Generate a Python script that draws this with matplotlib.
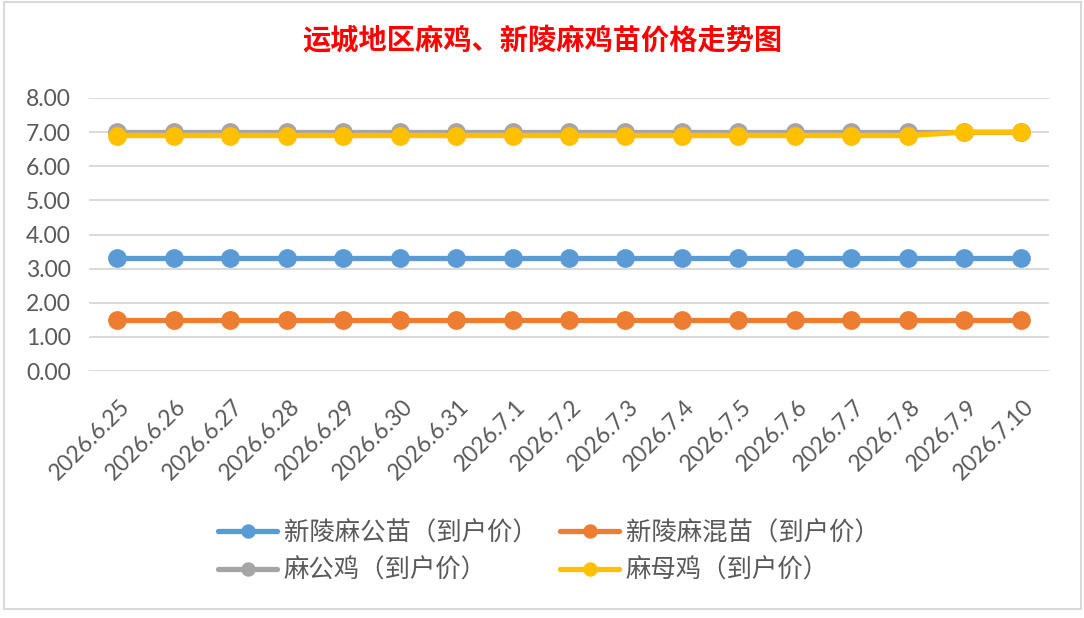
import matplotlib
matplotlib.use("Agg")
import matplotlib.pyplot as plt
import matplotlib.transforms as mtransforms
from matplotlib.patches import Rectangle

dates = ["2026.6.25", "2026.6.26", "2026.6.27", "2026.6.28", "2026.6.29", "2026.6.30",
         "2026.6.31", "2026.7.1", "2026.7.2", "2026.7.3", "2026.7.4", "2026.7.5",
         "2026.7.6", "2026.7.7", "2026.7.8", "2026.7.9", "2026.7.10"]
male_chick = [3.3] * 17
mixed_chick = [1.5] * 17
rooster = [7.0] * 17
hen = [6.9] * 15 + [7.0, 7.0]

series_names = ["新陵麻公苗（到户价）", "新陵麻混苗（到户价）", "麻公鸡（到户价）", "麻母鸡（到户价）"]
series_values = [male_chick, mixed_chick, rooster, hen]
colors = ["#5B9BD5", "#ED7D31", "#A5A5A5", "#FFC000"]
yticks = [0, 1, 2, 3, 4, 5, 6, 7, 8]

W, H = 1084, 618
fig = plt.figure(figsize=(W / 100, H / 100), dpi=100)
fig.patch.set_facecolor("white")

# chart frame
fig.add_artist(Rectangle((4 / W, 1 - 609 / H), (1081 - 4) / W, (609 - 2) / H,
                         transform=fig.transFigure, fill=False, edgecolor="#D9D9D9", lw=1.5))

ax = fig.add_axes([89 / W, 1 - 371 / H, (1049 - 89) / W, (371 - 98) / H])
x = list(range(len(dates)))
handles = []
for i in range(4):
    (h,) = ax.plot(x, series_values[i], color=colors[i], lw=3.8, marker="o",
                   markersize=12.5, label=series_names[i], solid_capstyle="round", zorder=3 + i)
    handles.append(h)

ax.set_xlim(-0.5, len(dates) - 0.5)
ax.set_ylim(0, 8)
ax.set_yticks(yticks)
ax.set_yticklabels([f"{v:.2f}" for v in yticks])
ax.grid(axis="y", color="#D9D9D9", lw=1.4, zorder=0)
ax.set_axisbelow(True)
for s in ax.spines.values():
    s.set_visible(False)
ax.tick_params(axis="both", length=0, colors="#595959", labelsize=16.5)
ax.tick_params(axis="y", pad=13)
for lab in ax.get_yticklabels():
    lab.set_fontfamily("Lato")
ax.set_xticks(x)
ax.set_xticklabels(dates, rotation=45, ha="right", va="top", rotation_mode="anchor",
                   fontfamily="Lato", fontsize=16.5, color="#595959")
ax.tick_params(axis="x", pad=18)
offset = mtransforms.ScaledTranslation(2 / 100, 0, fig.dpi_scale_trans)
for lab in ax.get_xticklabels():
    lab.set_transform(lab.get_transform() + offset)

fig.text(542 / W, 1 - 40 / H, "运城地区麻鸡、新陵麻鸡苗价格走势图", ha="center", va="center",
         color="#FF0000", fontsize=20.3, fontweight="bold", fontfamily="Noto Sans CJK SC")

# legend filled column-wise -> order so rows read: blue, orange / grey, yellow
leg_order = [0, 2, 1, 3]
leg = fig.legend(handles=[handles[i] for i in leg_order],
                 labels=[series_names[i] for i in leg_order], ncol=2, loc="center",
                 bbox_to_anchor=(549 / W, 1 - 552 / H), frameon=False,
                 prop={"family": ["Noto Sans CJK SC", "DejaVu Sans"], "size": 18.3},
                 handlelength=2.3, handletextpad=0.27, columnspacing=0.9, labelspacing=0.45,
                 markerscale=0.75)
for t in leg.get_texts():
    t.set_color("#595959")

fig.savefig("out.png", dpi=100, facecolor="white")
